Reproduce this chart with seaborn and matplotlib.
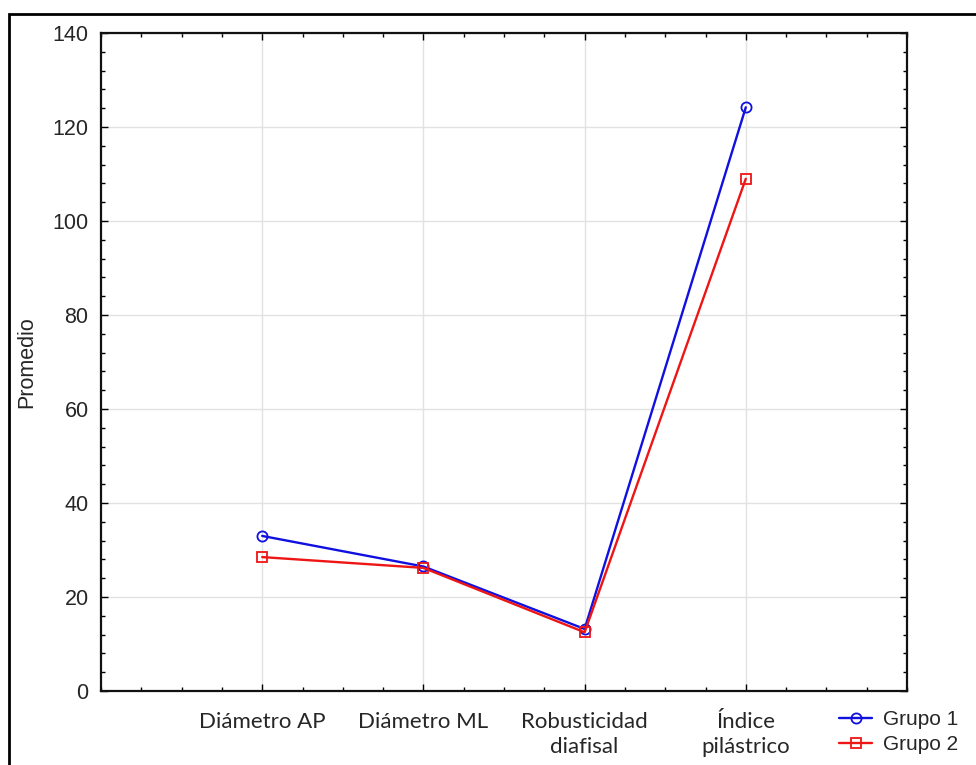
import matplotlib
matplotlib.use("Agg")
import matplotlib.pyplot as plt
from matplotlib.patches import Rectangle
from matplotlib.ticker import MultipleLocator
import pandas as pd
import seaborn as sns

categorias = ["Diámetro AP", "Diámetro ML", "Robusticidad\ndiafisal", "Índice\npilástrico"]
grupo1 = [33.0, 26.5, 13.2, 124.2]
grupo2 = [28.5, 26.2, 12.5, 109.0]
grupos = ["Grupo 1", "Grupo 2"]

df = pd.DataFrame({
    "Variable": categorias * 2,
    "Promedio": grupo1 + grupo2,
    "Grupo": [grupos[0]] * len(categorias) + [grupos[1]] * len(categorias),
})

sns.set_theme(style="white")
plt.rcParams["font.family"] = ["Liberation Sans", "DejaVu Sans"]

fig = plt.figure(figsize=(9.76, 7.65), dpi=100)
ax = fig.add_axes([0.1035, 0.0967, 0.8258, 0.8601])

sns.lineplot(
    data=df, x="Variable", y="Promedio", hue="Grupo", style="Grupo",
    palette={"Grupo 1": "#1010e0", "Grupo 2": "#ee1515"},
    markers={"Grupo 1": "o", "Grupo 2": "s"}, dashes=False,
    markersize=7.3, markerfacecolor="none", markeredgewidth=1.3,
    linewidth=1.7, sort=False, ax=ax,
)
# open markers take the line colour for their edge
for line in ax.get_lines():
    line.set_markeredgecolor(line.get_color())
    line.set_markerfacecolor("none")

ax.set_xlim(-1, 4)
ax.set_ylim(0, 140)
ax.set_xticks(range(len(categorias)))
ax.set_xticklabels(categorias, family=["Lato", "DejaVu Sans"], fontsize=16,
                   linespacing=1.35)
ax.yaxis.set_major_locator(MultipleLocator(20))
ax.yaxis.set_minor_locator(MultipleLocator(4))
ax.xaxis.set_minor_locator(MultipleLocator(0.25))
ax.tick_params(axis="y", labelsize=15.5, pad=9)
ax.tick_params(axis="x", pad=15)
ax.tick_params(which="both", direction="in", top=True, right=True,
               bottom=True, left=True, color="black")
ax.tick_params(which="major", length=5, width=1)
ax.tick_params(which="minor", length=3, width=1)

ax.grid(True, which="major", color="#e2e2e2", linewidth=1)
ax.set_axisbelow(True)
for s in ax.spines.values():
    s.set_color("#111111")
    s.set_linewidth(1.6)

ax.set_xlabel("")
ax.set_ylabel("Promedio", fontsize=15.5, labelpad=11)

ax.legend_.remove()
handles, labels = ax.get_legend_handles_labels()
leg = fig.legend(
    handles, labels, title=None, loc="upper left",
    bbox_to_anchor=(839 / 976, 1 - 710 / 765), bbox_transform=fig.transFigure,
    frameon=False, fontsize=15, handlelength=1.6, handletextpad=0.5,
    labelspacing=0.3, borderaxespad=0, borderpad=0,
)
for h in leg.get_lines():
    h.set_markerfacecolor("none")
    h.set_markeredgecolor(h.get_color())

# frame around the figure
fig.patches.append(Rectangle((9 / 976, -0.1), 1.2, 1 + 0.1 - 14 / 765,
                             transform=fig.transFigure, fill=False,
                             edgecolor="black", linewidth=2))

fig.savefig("out.png", dpi=100)
